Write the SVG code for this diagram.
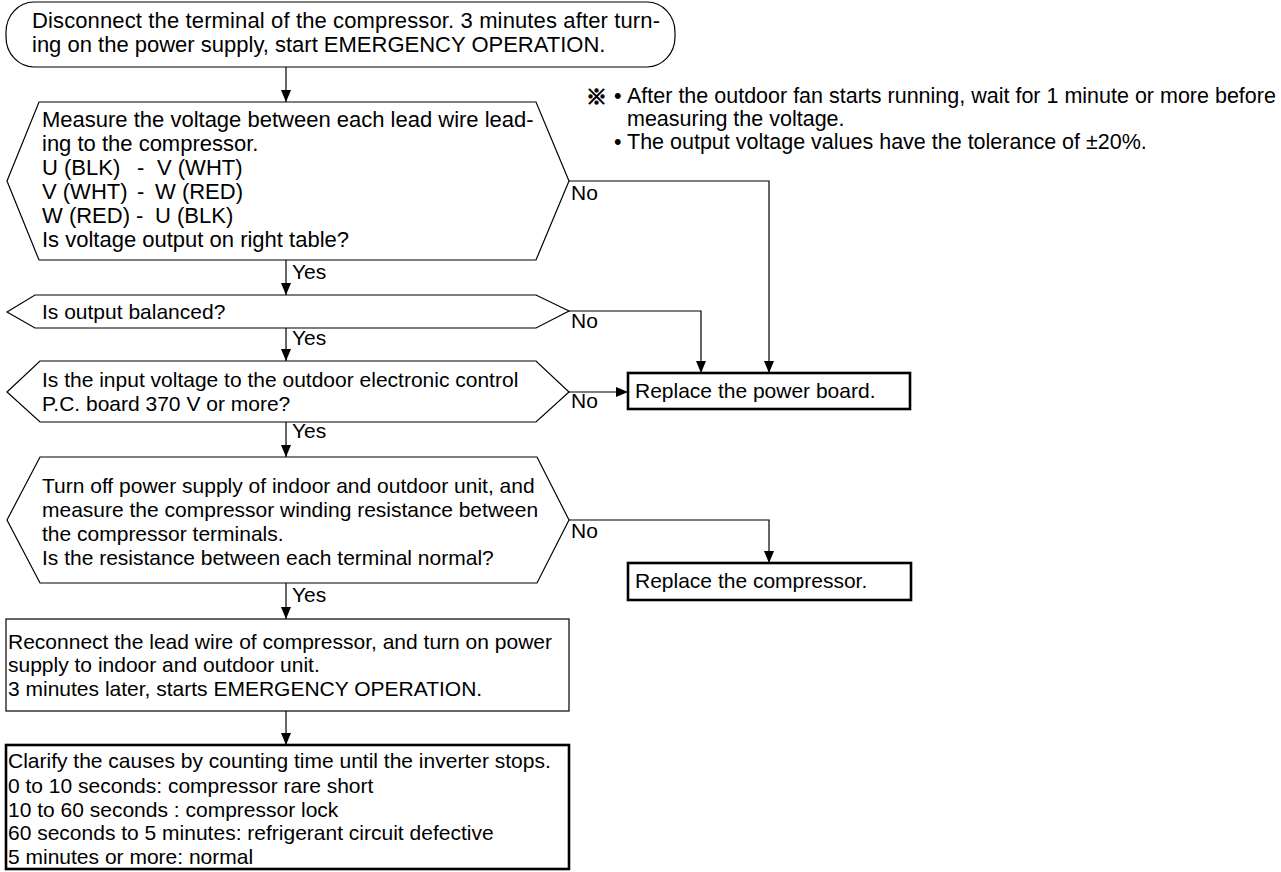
<svg xmlns="http://www.w3.org/2000/svg" width="1281" height="872" viewBox="0 0 1281 872">
<style>
text{font-family:"Liberation Sans",Arial,sans-serif;font-size:21px;fill:#000}
.big{font-size:22px}
.nt{font-size:21.5px}
.shape{fill:#fff;stroke:#000;stroke-width:1.2}
.thick{fill:#fff;stroke:#000;stroke-width:2.6}
.conn{fill:none;stroke:#000;stroke-width:1.2}
.mark{font-family:"Noto Sans CJK JP","DejaVu Sans",sans-serif;font-weight:bold;font-size:21px;stroke:#000;stroke-width:1}
</style>
<defs>
<marker id="arr" viewBox="0 0 12 10" refX="12" refY="5" markerWidth="12" markerHeight="10" markerUnits="userSpaceOnUse" orient="auto">
<path d="M0,0 L12,5 L0,10 z" fill="#000"/>
</marker>
</defs>
<rect width="1281" height="872" fill="#fff"/>

<g id="start">
<rect class="shape" x="6" y="2" width="669" height="65" rx="28" ry="30"/>
<text class="big" x="32" y="28" textLength="628" lengthAdjust="spacing">Disconnect the terminal of the compressor. 3 minutes after turn-</text>
<text class="big" x="32" y="52">ing on the power supply, start EMERGENCY OPERATION.</text>
</g>

<g id="note">
<text class="mark" x="586" y="104">※</text>
<text class="nt" x="614" y="103">•</text>
<text class="nt" x="627" y="103">After the outdoor fan starts running, wait for 1 minute or more before</text>
<text class="nt" x="627" y="126">measuring the voltage.</text>
<text class="nt" x="614" y="149">•</text>
<text class="nt" x="627" y="149">The output voltage values have the tolerance of ±20%.</text>
</g>

<g id="q1">
<polygon class="shape" points="7,181 39,102 536,102 569,181 536,260 39,260"/>
<text class="big" x="42" y="127">Measure the voltage between each lead wire lead-</text>
<text class="big" x="42" y="151">ing to the compressor.</text>
<text class="big" y="175"><tspan x="42">U (BLK)</tspan><tspan x="137">-</tspan><tspan x="157">V (WHT)</tspan></text>
<text class="big" y="199"><tspan x="42">V (WHT)</tspan><tspan x="137">-</tspan><tspan x="155">W (RED)</tspan></text>
<text class="big" y="223"><tspan x="42">W (RED)</tspan><tspan x="136">-</tspan><tspan x="155">U (BLK)</tspan></text>
<text class="big" x="42" y="247">Is voltage output on right table?</text>
</g>

<g id="q2">
<polygon class="shape" points="7,312 35,295 536,295 569,311 536,328 35,328"/>
<text x="42" y="319">Is output balanced?</text>
</g>

<g id="q3">
<polygon class="shape" points="7,392 40,361 536,361 569,392 536,422 40,422"/>
<text x="42" y="387">Is the input voltage to the outdoor electronic control</text>
<text x="42" y="411">P.C. board 370 V or more?</text>
</g>

<g id="q4">
<polygon class="shape" points="7,520 40,457 537,457 569,520 537,583 40,583"/>
<text x="42" y="493">Turn off power supply of indoor and outdoor unit, and</text>
<text x="42" y="517">measure the compressor winding resistance between</text>
<text x="42" y="541">the compressor terminals.</text>
<text x="42" y="565">Is the resistance between each terminal normal?</text>
</g>

<g id="powerboard">
<rect class="thick" x="628" y="373" width="282" height="36"/>
<text x="635" y="398">Replace the power board.</text>
</g>

<g id="compressor">
<rect class="thick" x="628" y="563" width="283" height="37"/>
<text x="635" y="588">Replace the compressor.</text>
</g>

<g id="reconnect">
<rect class="shape" x="6" y="619" width="563" height="92"/>
<text x="8" y="649">Reconnect the lead wire of compressor, and turn on power</text>
<text x="8" y="672">supply to indoor and outdoor unit.</text>
<text x="8" y="696">3 minutes later, starts EMERGENCY OPERATION.</text>
</g>

<g id="clarify">
<rect class="thick" x="6" y="745" width="563" height="124"/>
<text x="8" y="768">Clarify the causes by counting time until the inverter stops.</text>
<text x="8" y="793">0 to 10 seconds: compressor rare short</text>
<text x="8" y="817">10 to 60 seconds : compressor lock</text>
<text x="8" y="840">60 seconds to 5 minutes: refrigerant circuit defective</text>
<text x="8" y="864">5 minutes or more: normal</text>
</g>

<g id="connectors">
<path class="conn" d="M286,67 V102" marker-end="url(#arr)"/>
<path class="conn" d="M286,260 V295" marker-end="url(#arr)"/>
<path class="conn" d="M286,328 V361" marker-end="url(#arr)"/>
<path class="conn" d="M286,422 V457" marker-end="url(#arr)"/>
<path class="conn" d="M286,583 V619" marker-end="url(#arr)"/>
<path class="conn" d="M286,711 V745" marker-end="url(#arr)"/>
<path class="conn" d="M569,181 H769 V373" marker-end="url(#arr)"/>
<path class="conn" d="M569,311 H701 V373" marker-end="url(#arr)"/>
<path class="conn" d="M569,392 H628" marker-end="url(#arr)"/>
<path class="conn" d="M569,520 H769 V563" marker-end="url(#arr)"/>
<text x="292" y="279">Yes</text>
<text x="292" y="345">Yes</text>
<text x="292" y="438">Yes</text>
<text x="292" y="602">Yes</text>
<text x="571" y="200">No</text>
<text x="571" y="328">No</text>
<text x="571" y="408">No</text>
<text x="571" y="538">No</text>
</g>
</svg>
